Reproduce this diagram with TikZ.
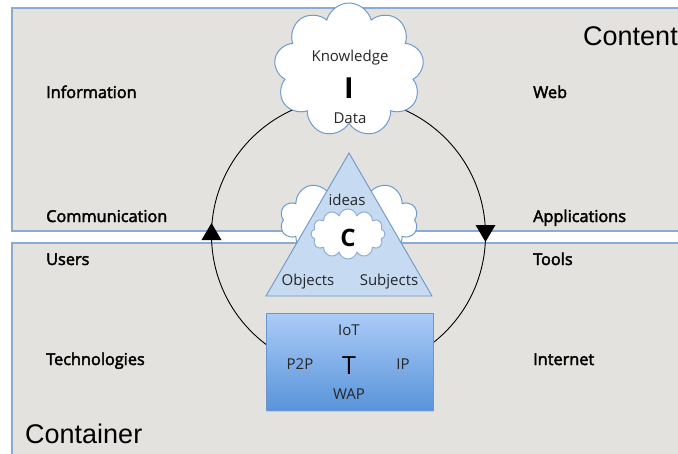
\documentclass[tikz,border=0pt]{standalone}
\usepackage{fontspec}
\setmainfont{Open Sans}
\newfontfamily\medfont[FakeBold=2.5]{Open Sans}
\newfontfamily\helv{Liberation Sans}
\usetikzlibrary{shapes.symbols,shapes.geometric,shadows,calc}
\definecolor{panelfill}{RGB}{228,226,222}
\definecolor{panelline}{RGB}{140,170,210}
\definecolor{cloudline}{RGB}{110,155,205}
\definecolor{trifill}{RGB}{198,218,241}
\definecolor{triline}{RGB}{110,150,200}
\definecolor{boxtop}{RGB}{172,203,247}
\definecolor{boxbot}{RGB}{88,148,218}
\definecolor{boxline}{RGB}{105,150,205}
\tikzset{
  panel/.style={fill=panelfill,draw=panelline,line width=1.2pt},
  lbl/.style={anchor=base west,inner sep=0pt,font=\medfont\fontsize{16.3}{18}\selectfont},
  small/.style={inner sep=0pt,font=\fontsize{15}{16}\selectfont,text=black!85},
  bigtitle/.style={inner sep=0pt,anchor=base west,font=\helv\fontsize{27}{30}\selectfont},
  cloudy/.style={cloud,cloud puffs=10,cloud ignores aspect,fill=white,draw=cloudline,line width=1pt},
}
\begin{document}
\begin{tikzpicture}[x=1pt,y=-1pt]
\useasboundingbox (0,0) rectangle (678,453);
\fill[white] (0,0) rectangle (678,453);
% panels
\draw[panel] (12,8) rectangle (700,231);
\draw[panel] (12,243) rectangle (700,470);
\node[bigtitle] (content) at (583,45) {Content};
\node[bigtitle] (container) at (25,443) {Container};
% labels
\node[lbl] (information) at (46,98) {Information};
\node[lbl] (communication) at (46,222) {Communication};
\node[lbl] (users) at (46,265) {Users};
\node[lbl] (technologies) at (46,365) {Technologies};
\node[lbl] (web) at (533,98) {Web};
\node[lbl] (applications) at (533,222) {Applications};
\node[lbl] (tools) at (533,265) {Tools};
\node[lbl] (internet) at (533,365) {Internet};
% cycle
\coordinate (cc) at (348.5,235);
\draw[line width=0.9pt] (cc) circle (137pt);
\coordinate (la) at (211.5,232);
\coordinate (ra) at (485.5,233);
\fill ($(la)+(0,-9)$) -- ($(la)+(10,8)$) -- ($(la)+(-10,8)$) -- cycle;
\fill ($(ra)+(0,9)$) -- ($(ra)+(10,-8)$) -- ($(ra)+(-10,-8)$) -- cycle;
% top cloud
\node[cloudy,cloud puffs=9,minimum width=150pt,minimum height=134pt] (icloud) at (349,70) {};
\node[small] (knowledge) at (350,58) {Knowledge};
\node[inner sep=0pt,font=\fontsize{29}{30}\selectfont\bfseries] (I) at (349,88) {I};
\node[small] (data) at (350,118) {Data};
% middle cloud
\node[cloudy,minimum width=138pt,minimum height=84pt] (ccloud) at (349,220) {};
% triangle
\coordinate (tA) at (349,153);
\coordinate (tL) at (266,296);
\coordinate (tR) at (432,296);
\draw[fill=trifill,draw=triline,line width=0.9pt] (tA) -- (tR) -- (tL) -- cycle;
\node[cloudy,cloud puffs=12,draw=cloudline!80,minimum width=74pt,minimum height=50pt] (inner) at (348,234) {};
\node[inner sep=0pt,font=\fontsize{24}{26}\selectfont\bfseries] (C) at (348,238) {C};
\node[small] (ideas) at (347,200) {ideas};
\node[small] (objects) at (308,282) {Objects};
\node[small] (subjects) at (389,282) {Subjects};
% box
\node[draw=boxline,line width=0.8pt,top color=boxtop,bottom color=boxbot,minimum width=167pt,minimum height=97pt,drop shadow={opacity=0.25,shadow xshift=1pt,shadow yshift=-1.5pt},inner sep=0pt] (tbox) at (349.5,362) {};
\node[small] (iot) at (349,330) {IoT};
\node[small] (p2p) at (300,364) {P2P};
\node[inner sep=0pt,font=\fontsize{25}{26}\selectfont] (T) at (349,366) {T};
\node[small] (ip) at (403,364) {IP};
\node[small] (wap) at (349,394) {WAP};
\end{tikzpicture}
\end{document}
